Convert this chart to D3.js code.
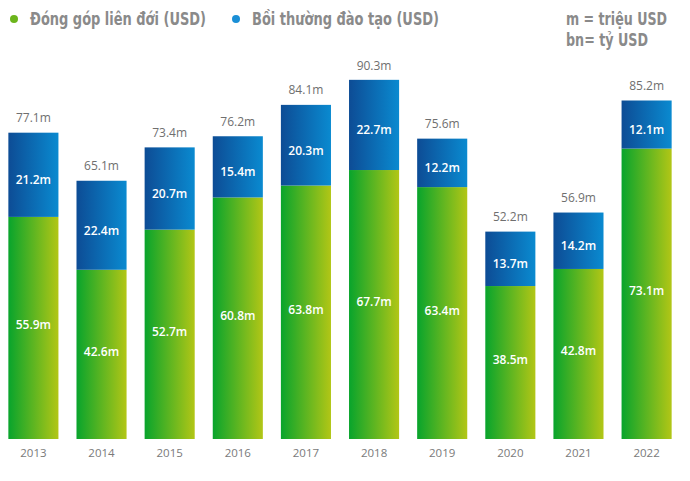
<!DOCTYPE html>
<html><head><meta charset="utf-8">
<script src="https://d3js.org/d3.v7.min.js"></script>
<style>body{margin:0;background:#fff;}svg{display:block;}</style>
</head><body>
<script>
const years = ["2013","2014","2015","2016","2017","2018","2019","2020","2021","2022"];
const greenVals = [55.9,42.6,52.7,60.8,63.8,67.7,63.4,38.5,42.8,73.1];
const blueVals  = [21.2,22.4,20.7,15.4,20.3,22.7,12.2,13.7,14.2,12.1];
const totals    = [77.1,65.1,73.4,76.2,84.1,90.3,75.6,52.2,56.9,85.2];
const legendLabels = ["Đóng góp liên đới (USD)","Bồi thường đào tạo (USD)"];
const noteLabels = ["m = triệu USD","bn= tỷ USD"];

const W=690,H=481;
const svg=d3.select("body").append("svg").attr("width",W).attr("height",H);
const defs=svg.append("defs");
function grad(id,c1,c2){const g=defs.append("linearGradient").attr("id",id).attr("x1","0%").attr("x2","100%").attr("y1","0%").attr("y2","0%");
 g.append("stop").attr("offset","0%").attr("stop-color",c1);g.append("stop").attr("offset","100%").attr("stop-color",c2);}
grad("gG","#08a42c","#b2c616");
grad("gB","#0d4c95","#0a8ad0");

const x=d3.scaleBand().domain(years).range([-0.5,680.5]).paddingInner(0.265).paddingOuter(0.13);
const y=d3.scaleLinear().domain([0,100]).range([439,41.7]);

const rows=years.map((yr,i)=>({yr,g:greenVals[i],b:blueVals[i],t:totals[i]}));
const gBar=svg.append("g");
gBar.selectAll("rect.g").data(rows).join("rect").attr("x",d=>x(d.yr)).attr("width",x.bandwidth())
 .attr("y",d=>y(d.g)).attr("height",d=>y(0)-y(d.g)).attr("fill","url(#gG)");
gBar.selectAll("rect.b").data(rows).join("rect").attr("x",d=>x(d.yr)).attr("width",x.bandwidth())
 .attr("y",d=>y(d.g+d.b)).attr("height",d=>y(d.g)-y(d.g+d.b)).attr("fill","url(#gB)");

const lf="'Open Sans', 'Noto Sans', sans-serif";
const cx=d=>x(d.yr)+x.bandwidth()/2;
svg.selectAll("text.gl").data(rows).join("text").attr("x",cx).attr("y",d=>(y(d.g)+y(0))/2-3)
 .attr("text-anchor","middle").attr("dominant-baseline","central").attr("fill","#fff").attr("font-family",lf)
 .attr("font-size",12).attr("font-weight",600).text(d=>d.g.toFixed(1)+"m");
svg.selectAll("text.bl").data(rows).join("text").attr("x",cx).attr("y",d=>(y(d.g)+y(d.g+d.b))/2+5)
 .attr("text-anchor","middle").attr("dominant-baseline","central").attr("fill","#fff").attr("font-family",lf)
 .attr("font-size",12).attr("font-weight",600).text(d=>d.b.toFixed(1)+"m");
svg.selectAll("text.tl").data(rows).join("text").attr("x",cx).attr("y",d=>y(d.t)-15)
 .attr("text-anchor","middle").attr("dominant-baseline","central").attr("fill","#6f6f6f").attr("font-family",lf)
 .attr("font-size",12).text(d=>d.t.toFixed(1)+"m");

const ax=svg.append("g").attr("transform","translate(0,439)").call(d3.axisBottom(x).tickSize(0).tickPadding(10));
ax.select(".domain").remove();
ax.selectAll("text").attr("font-family",lf).attr("font-size",11.5).attr("fill","#7a7a7a");

const nf="'DejaVu Sans Condensed','Liberation Sans Narrow',sans-serif";
const legX=[14,236],dotC=["#6cb51c","#1a8fd6"],legW=[176,187];
legendLabels.forEach((t,i)=>{
 svg.append("circle").attr("cx",legX[i]).attr("cy",19).attr("r",4).attr("fill",dotC[i]);
 svg.append("text").attr("x",legX[i]+16).attr("y",19).attr("dominant-baseline","central").attr("font-family",nf)
  .attr("font-weight","bold").attr("font-size",17).attr("fill","#8a8a8a")
  .attr("textLength",legW[i]).attr("lengthAdjust","spacingAndGlyphs").text(t);
});
const noteW=[101,82];
noteLabels.forEach((t,i)=>{
 svg.append("text").attr("x",566).attr("y",19+i*21).attr("dominant-baseline","central").attr("font-family",nf)
  .attr("font-weight","bold").attr("font-size",17).attr("fill","#8a8a8a")
  .attr("textLength",noteW[i]).attr("lengthAdjust","spacingAndGlyphs").text(t);
});
</script>
</body></html>
